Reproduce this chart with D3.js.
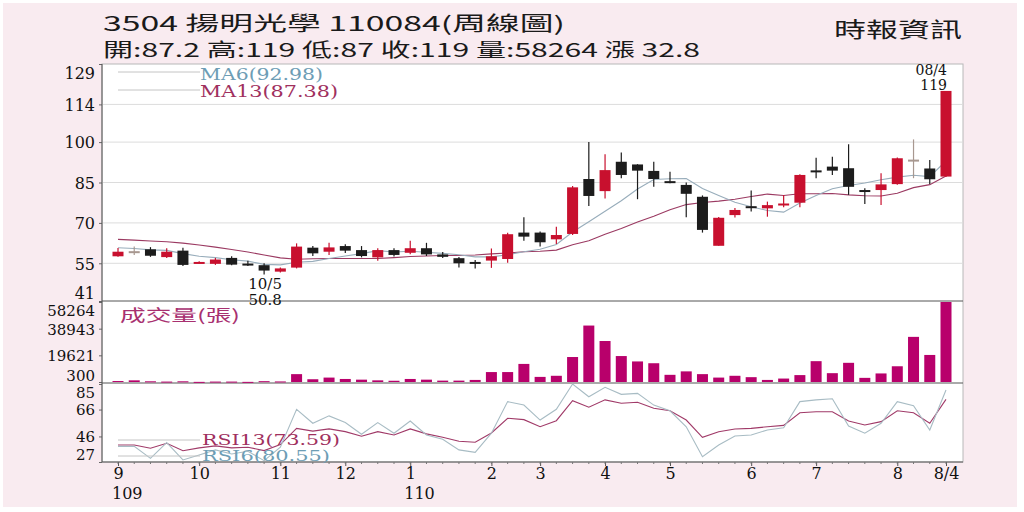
<!DOCTYPE html>
<html>
<head>
<meta charset="utf-8">
<script src="https://cdn.jsdelivr.net/npm/d3@7"></script>
<style>
  html, body { margin: 0; padding: 0; background: #fff; }
  svg { display: block; }
  .num { font-family: "DejaVu Serif", serif; fill: #111; }
  .cjk { font-family: "Noto Sans CJK TC", "Noto Sans", sans-serif; fill: #1a1a1a; }
</style>
</head>
<body>
<svg id="chart" width="1024" height="512"></svg>
<script>
// weekly candles, 109/9 .. 110/08 week 4
const opens  = [57.6,59.5,60.2,57.3,59.7,55.2,54.8,57.0,54.9,54.3,51.9,53.4,60.8,59.3,61.4,59.9,57.2,59.9,58.9,60.6,58.3,56.9,55.5,56.0,56.6,66.4,
                66.4,63.9,65.9,86.3,81.8,92.7,91.7,89.3,85.5,84.1,79.7,61.5,72.9,76.2,75.4,76.8,77.5,89.5,90.9,90.3,82.2,82.2,84.4,93.5,90.2,87.2];
const highs  = [60.7,61.2,61.0,60.6,60.8,55.8,57.0,57.6,55.9,55.0,53.4,62.4,61.4,62.6,62.1,61.4,60.6,60.6,63.4,62.6,59.2,57.3,56.2,60.5,66.3,72.1,
                66.8,68.6,83.7,100,95.5,96.1,91.8,92.7,89.0,85.0,80.2,72.2,75.5,82.0,77.9,80.4,88.1,94.2,94.6,99.2,82.9,88.4,94.3,101,93.4,119];
const lows   = [57.4,58.1,57.4,57.0,54.0,55.0,54.4,54.3,54.0,50.8,51.6,53.1,57.7,58.1,58.8,57.2,55.9,57.5,58.4,57.7,57.0,53.4,53.1,53.3,55.2,63.4,
                61.2,62.2,65.5,76.3,79.1,86.6,78.8,83.4,84.7,72.1,66.4,61.5,72.0,74.2,72.3,75.8,75.8,86.6,87.8,80.4,77.0,76.6,84.2,86.6,84.4,87];
const closes = [59.3,59.5,57.8,59.3,54.4,55.5,56.4,54.5,54.6,52.3,53.1,61.2,58.7,60.9,59.7,57.7,59.9,58.1,60.6,58.3,57.4,55.0,55.2,57.6,65.8,64.9,
                62.8,65.5,83.2,80.0,89.6,87.8,89.4,86.3,85.1,80.8,67.4,71.9,74.8,75.9,76.6,77.2,87.8,89.1,89.4,83.4,81.8,84.3,94.0,93.5,86.2,119];
const volumes = [1000,1500,800,600,800,400,600,600,400,900,700,6000,2300,3500,2500,2000,1500,1200,2500,2000,1300,1300,1800,7500,7500,13400,
                 4000,4800,18400,41200,30000,19100,15200,13900,5500,8000,6000,3500,4800,3800,1800,2800,5300,15400,6700,14200,3300,6500,11700,33000,19900,58264];
const ma6  = [60.8,60.5,60.0,59.8,58.6,57.6,57.1,56.3,55.8,54.6,54.4,55.4,55.7,56.8,57.7,58.6,59.7,59.2,59.5,59.1,58.7,58.2,57.4,57.4,58.2,59.3,
              60.2,62.0,66.6,70.4,74.3,78.2,82.6,86.1,86.4,86.5,82.8,80.2,77.7,76.0,74.6,74.0,77.4,80.2,82.7,83.9,84.8,86.0,87.0,87.7,87.2,92.98];
const ma13 = [63.9,63.6,63.3,63.0,62.5,61.8,61.0,60.1,59.2,58.1,57.0,56.5,56.7,56.8,56.8,56.8,56.8,57.1,57.5,57.7,57.9,57.9,58.1,58.5,58.8,59.3,
              59.5,59.9,61.9,63.4,65.8,67.9,70.3,72.5,74.9,76.8,77.6,78.1,78.8,79.8,80.7,80.2,80.8,80.8,80.9,80.4,80.1,80.0,81.0,83.1,84.2,87.38];
const rsi6  = [38.6,38.6,29.7,41.4,28.5,32.2,36,33,35,28,38,66.2,55.8,61.3,56.3,47.6,56.3,48.4,57.5,47.1,43.9,36.0,34.2,48.4,71.9,69.4,
               58.2,66.2,85.0,75.5,82.5,77.3,78.0,69.3,65.1,53.2,30.9,39.6,46.3,47.1,50.8,52.5,71.9,73.2,74.0,53.8,48.4,55.8,71.9,68.9,50.8,80.55];
const rsi13 = [39.6,39.6,37.2,40.9,35.4,37.5,39,37.5,38,35.5,40,52,50,51.6,49.6,46.2,49.6,47.1,51.6,47.9,45.4,42.4,41.7,48.6,59.5,58.5,
               53.2,57.7,72.6,67.7,73.2,70.7,71.4,67.0,65.1,58.2,45.4,49.5,51.5,52.0,53.2,54.2,63.6,64.4,64.4,57.5,54.5,57.0,65.1,63.6,55.8,73.59];

const priceTicks = [41,55,70,85,100,114,129];
const volTicks = [300,19621,38943,58264];
const rsiTicks = [27,46,66,85];
const monthIdx = [0,5,10,14,18,23,26,30,34,39,43,48,51];
const monthLabels = ["9","10","11","12","1","2","3","4","5","6","7","8","8/4"];
const yearIdx = [0,18];
const yearLabels = ["109","110"];

const svg = d3.select("#chart");
const plotL = 102, plotR = 963, plotT = 64, plotB = 462;
const priceB = 301, volB = 383;

const x = d3.scaleLinear().domain([0, 51]).range([118, 946]);
const yPrice = d3.scaleLinear().domain([41, 129]).range([priceB, plotT]);
const yVol = d3.scaleLinear().domain([300, 58264]).range([382, 302]);
const yRsi = d3.scaleLinear().domain([27, 85]).range([plotB, 384]);

// background
svg.append("rect").attr("x", 3).attr("y", 3).attr("width", 1014).attr("height", 504).attr("fill", "#f9ebf0");
svg.append("rect").attr("x", plotL).attr("y", plotT).attr("width", plotR - plotL).attr("height", plotB - plotT)
  .attr("fill", "#fff").attr("stroke", "#b8b8b8");

// header
function fitText(g, str, px, py, len, size, cls, color) {
  const t = g.append("text").attr("class", cls).attr("x", px).attr("y", py)
    .attr("font-size", size).attr("textLength", len).attr("lengthAdjust", "spacingAndGlyphs")
    .text(str);
  if (color) t.style("fill", color);
  return t;
}
fitText(svg, "3504  揚明光學 110084(周線圖)", 103, 31, 462, 20, "cjk");
fitText(svg, "開:87.2 高:119 低:87 收:119 量:58264 漲 32.8", 103, 57, 597, 19, "cjk");
fitText(svg, "時報資訊", 834, 37, 128, 21, "cjk");

// price grid
svg.append("g").selectAll("line").data(priceTicks.slice(1, -1)).join("line")
  .attr("x1", plotL).attr("x2", plotR).attr("y1", d => yPrice(d)).attr("y2", d => yPrice(d))
  .attr("stroke", "#dcdcdc");

// left axes
function leftAxis(scale, ticks, top, bottom, size) {
  const g = svg.append("g").attr("transform", `translate(${plotL},0)`)
    .call(d3.axisLeft(scale).tickValues(ticks).tickFormat(d3.format("d")).tickSize(3).tickPadding(4));
  g.select(".domain").remove();
  g.selectAll(".tick line").attr("stroke", "#666");
  g.selectAll(".tick text").attr("class", "num").attr("font-size", size)
    .attr("dy", "0.36em")
    .attr("y", d => Math.max(top + 9, Math.min(bottom - 8, scale(d))) - scale(d));
  return g;
}
leftAxis(yPrice, priceTicks, plotT, priceB, 16);
leftAxis(yVol, volTicks, priceB, volB, 15);
leftAxis(yRsi, rsiTicks, volB, plotB, 15);

// panel separators and axis lines
[priceB, volB].forEach(yy => svg.append("line").attr("x1", plotL).attr("x2", plotR)
  .attr("y1", yy).attr("y2", yy).attr("stroke", "#555"));
svg.append("line").attr("x1", plotL).attr("x2", plotL).attr("y1", plotT).attr("y2", plotB).attr("stroke", "#555");

// bottom axis
const xa = svg.append("g").attr("transform", `translate(0,${plotB})`)
  .call(d3.axisBottom(x).tickValues(monthIdx).tickFormat((d, i) => monthLabels[i]).tickSize(4).tickPadding(2));
xa.select(".domain").attr("d", `M${plotL},0H${plotR}`).attr("stroke", "#555");
xa.selectAll(".tick line").attr("stroke", "#555");
xa.selectAll(".tick text").attr("class", "num").attr("font-size", 16);
svg.append("g").selectAll("line").data(d3.range(52)).join("line")
  .attr("x1", d => x(d)).attr("x2", d => x(d)).attr("y1", plotB).attr("y2", plotB + 2).attr("stroke", "#777");
svg.append("g").selectAll("text").data(yearIdx).join("text")
  .attr("class", "num").attr("font-size", 16)
  .attr("x", d => x(d) - 6).attr("y", 499).text((d, i) => yearLabels[i]);

// moving averages
const line = (arr, scale) => d3.line().x((d, i) => x(i)).y(d => scale(d))(arr);
svg.append("path").attr("d", line(ma13, yPrice)).attr("fill", "none").attr("stroke", "#9b3a62").attr("stroke-width", 1.1);
svg.append("path").attr("d", line(ma6, yPrice)).attr("fill", "none").attr("stroke", "#98adbb").attr("stroke-width", 1.1);

// candles
const candleColor = i => closes[i] > opens[i] ? "#c8102e" : (closes[i] < opens[i] ? "#1c1c1c" : "#a89890");
const cg = svg.append("g").selectAll("g").data(d3.range(52)).join("g");
cg.append("line").attr("x1", i => x(i)).attr("x2", i => x(i))
  .attr("y1", i => yPrice(highs[i])).attr("y2", i => yPrice(lows[i]))
  .attr("stroke", candleColor).attr("stroke-width", 1.2);
cg.append("rect").attr("x", i => x(i) - 5.5).attr("width", 11)
  .attr("y", i => yPrice(Math.max(opens[i], closes[i])))
  .attr("height", i => Math.max(2, Math.abs(yPrice(opens[i]) - yPrice(closes[i]))))
  .attr("fill", candleColor);

// volume
svg.append("g").selectAll("rect").data(volumes).join("rect")
  .attr("x", (d, i) => x(i) - 5.5).attr("width", 11)
  .attr("y", d => yVol(d)).attr("height", d => Math.max(1, yVol(300) - yVol(d)))
  .attr("fill", "#b8006b");

// rsi
svg.append("path").attr("d", line(rsi13, yRsi)).attr("fill", "none").attr("stroke", "#a03a68").attr("stroke-width", 1.1);
svg.append("path").attr("d", line(rsi6, yRsi)).attr("fill", "none").attr("stroke", "#a8bcc4").attr("stroke-width", 1.1);

// legends
[[72, 90], [440, 456]].forEach(pair => pair.forEach(yy =>
  svg.append("line").attr("x1", 118).attr("x2", 200).attr("y1", yy).attr("y2", yy).attr("stroke", "#c4c4c4")));
fitText(svg, "MA6(" + ma6[51].toFixed(2) + ")", 200, 80, 123, 16, "num", "#6d9db5");
fitText(svg, "MA13(" + ma13[51].toFixed(2) + ")", 200, 97, 138, 16, "num", "#a0305e");
fitText(svg, "RSI13(" + rsi13[51].toFixed(2) + ")", 202, 445, 138, 15, "num", "#a0305e");
fitText(svg, "RSI6(" + rsi6[51].toFixed(2) + ")", 202, 461, 128, 15, "num", "#6d9db5");
fitText(svg, "成交量(張)", 120, 321, 120, 16, "cjk", "#a83070");

// high / low notes
svg.append("text").attr("class", "num").attr("font-size", 14).attr("text-anchor", "end")
  .attr("x", x(51) + 1).attr("y", 75).text("08/4");
svg.append("text").attr("class", "num").attr("font-size", 14).attr("text-anchor", "end")
  .attr("x", x(51) + 1).attr("y", 90).text(highs[51]);
svg.append("text").attr("class", "num").attr("font-size", 15).attr("text-anchor", "middle")
  .attr("x", x(9) + 1).attr("y", 289).text("10/5");
svg.append("text").attr("class", "num").attr("font-size", 15).attr("text-anchor", "middle")
  .attr("x", x(9) + 1).attr("y", 305).text(lows[9]);
</script>
</body>
</html>
